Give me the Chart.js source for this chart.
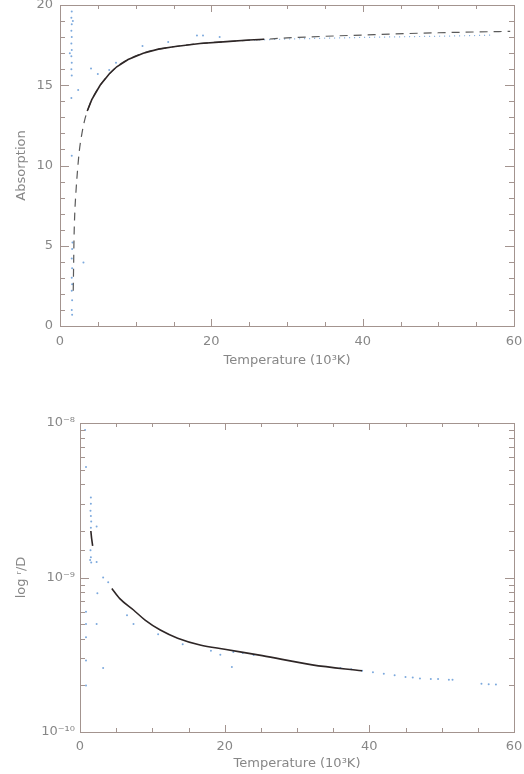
<!DOCTYPE html>
<html>
<head>
<meta charset="utf-8">
<script src="https://cdn.jsdelivr.net/npm/chart.js@4.4.0/dist/chart.umd.min.js"></script>
<style>
    body { margin: 0; background: #fff; width: 524px; height: 774px; overflow: hidden; position: relative; }
    .caixa { position: absolute; left: 0; width: 524px; }
</style>
</head>
<body>
<div class="caixa" style="top:-14px;height:394px"><canvas id="graficoA"></canvas></div>
<div class="caixa" style="top:390px;height:384px"><canvas id="graficoR"></canvas></div>

<script>
// ---- dados: grafico de absorcao ----
const tempTracejada = [1.75, 1.8, 1.85, 1.95, 2.1, 2.3, 2.55, 2.9, 3.3, 3.7, 4.2, 5.3, 7.5, 11, 15, 18.5, 22, 26.7, 30, 35, 40, 44.3, 50, 55, 59.5];
const absTracejada = [2.2, 3.8, 5.4, 7.0, 8.3, 9.6, 10.9, 12.0, 12.9, 13.5, 14.1, 15.0, 16.15, 17.0, 17.4, 17.6, 17.72, 17.85, 17.95, 18.05, 18.13, 18.2, 18.27, 18.32, 18.36];

const tempSolida = [3.6, 4.2, 5.3, 6.5, 7.5, 9, 11, 13, 15, 18.5, 22, 25, 27];
const absSolida = [13.4, 14.1, 15.0, 15.7, 16.15, 16.6, 17.0, 17.25, 17.4, 17.6, 17.72, 17.82, 17.87];

const tempPontilhada = [25, 30, 35, 40, 45, 51, 55, 57];
const absPontilhada = [17.8, 17.88, 17.93, 17.98, 18.02, 18.06, 18.1, 18.12];

const tempPontosA = [1.55, 1.55, 1.5, 1.55, 1.5, 1.55, 1.5, 1.55, 1.5, 1.55, 1.5, 1.55, 1.5, 1.55, 1.6, 1.55, 1.6, 1.55, 1.6, 1.55, 1.6, 1.55, 1.6,
    2.4, 4.1, 5.0, 6.5, 7.4, 10.9, 14.3, 18.1, 18.9, 21.1, 3.1, 1.65, 1.3, 1.7];
const absPontosA = [20, 19.6, 19.2, 18.8, 18.4, 18.0, 17.6, 17.2, 16.8, 16.4, 16.0, 15.6, 14.2, 10.6, 4.8, 4.2, 3.6, 3.0, 2.6, 2.2, 1.6, 1.0, 0.7,
    14.7, 16.05, 15.7, 15.95, 16.4, 17.45, 17.7, 18.1, 18.1, 18.0, 3.95, 5.2, 17.0, 19.0];

// ---- dados: grafico log r/D ----
const tempCurta = [1.5, 1.6, 1.75];
const razaoCurta = [2.0e-9, 1.8e-9, 1.6e-9];

const tempCurva = [4.4, 5.5, 7.4, 9, 11.1, 13.5, 16.6, 20, 25.2, 32.1, 39.0];
const razaoCurva = [8.5e-10, 7.3e-10, 6.16e-10, 5.3e-10, 4.57e-10, 4.05e-10, 3.66e-10, 3.43e-10, 3.12e-10, 2.72e-10, 2.49e-10];

const tempPontosR = [36, 37.5, 39, 40.5, 42, 43.5, 45, 46, 47, 48.5, 49.5, 51, 51.5, 55.5, 56.5, 57.5,
    1.5, 1.5, 1.45, 1.5, 1.55, 1.5, 1.45, 1.5, 1.55,
    0.7, 0.83, 0.83, 0.83, 0.83, 0.83, 0.83,
    2.3, 2.3, 1.4, 3.2, 3.9, 2.4, 2.3, 3.2, 6.5, 7.4, 10.8, 14.2, 18.1, 19.4, 21, 21.2, 22.5, 24];
const razaoPontosR = [2.6e-10, 2.55e-10, 2.49e-10, 2.44e-10, 2.38e-10, 2.33e-10, 2.27e-10, 2.25e-10, 2.22e-10, 2.2e-10, 2.2e-10, 2.18e-10, 2.18e-10, 2.05e-10, 2.04e-10, 2.03e-10,
    3.3e-9, 3.0e-9, 2.7e-9, 2.5e-9, 2.3e-9, 2.1e-9, 1.5e-9, 1.35e-9, 1.25e-9,
    9e-9, 5.2e-9, 6.0e-10, 5.0e-10, 4.1e-10, 2.9e-10, 2.0e-10,
    2.14e-9, 1.26e-9, 1.3e-9, 1.0e-9, 9.3e-10, 7.9e-10, 5.0e-10, 2.6e-10, 5.7e-10, 5.0e-10, 4.3e-10, 3.7e-10, 3.36e-10, 3.16e-10, 2.63e-10, 3.3e-10, 3.25e-10, 3.15e-10];

const ticksX = ["0", "20", "40", "60"];

const corEixo = "#a3948f";
const corTexto = "#878787";
const corAzul = "rgba(80,140,210,0.75)";
const fonte = { family: "DejaVu Sans", size: 13 };

function pares(xs, ys) {
    return xs.map((x, i) => ({ x: x, y: ys[i] }));
}

const sobrescrito = { "-": "\u207B", "0": "\u2070", "1": "\u00B9", "8": "\u2078", "9": "\u2079" };

function ehPotencia(v) {
    const l = Math.log10(v);
    return Math.abs(l - Math.round(l)) < 1e-6;
}

// moldura com tracinhos para dentro nos quatro lados
function criarMoldura(maiorY) {
    return {
        id: "moldura",
        afterDatasetsDraw(chart) {
            const { ctx, chartArea: a, scales } = chart;
            ctx.save();
            ctx.strokeStyle = corEixo;
            ctx.lineWidth = 1;
            ctx.strokeRect(a.left + 0.5, a.top + 0.5, a.right - a.left, a.bottom - a.top);
            ctx.beginPath();
            scales.x.ticks.forEach(t => {
                const px = Math.round(scales.x.getPixelForValue(t.value)) + 0.5;
                const len = t.value % 20 === 0 ? 7 : 4;
                ctx.moveTo(px, a.bottom); ctx.lineTo(px, a.bottom - len);
                ctx.moveTo(px, a.top); ctx.lineTo(px, a.top + len);
            });
            scales.y.ticks.forEach(t => {
                const py = Math.round(scales.y.getPixelForValue(t.value)) + 0.5;
                const len = maiorY(t.value) ? 9 : 5;
                ctx.moveTo(a.left, py); ctx.lineTo(a.left + len, py);
                ctx.moveTo(a.right, py); ctx.lineTo(a.right - len, py);
            });
            ctx.stroke();
            ctx.restore();
        }
    };
}

function eixoX(pad, padTitulo, altura) {
    return {
        type: "linear",
        min: 0,
        max: 60,
        grid: { display: false, drawTicks: false },
        border: { display: false },
        ticks: {
            stepSize: 5,
            autoSkip: false,
            maxRotation: 0,
            padding: pad,
            color: corTexto,
            font: fonte,
            callback: v => (v % 20 === 0 ? ticksX[v / 20] : "")
        },
        title: { display: true, text: "Temperature (10\u00B3K)", color: corTexto, font: fonte, padding: { top: 0, bottom: padTitulo } },
        afterFit: s => { s.height = altura; s.paddingLeft = 0; s.paddingRight = 0; }
    };
}

document.addEventListener("DOMContentLoaded", () => {
    new Chart(document.getElementById("graficoA"), {
        type: "scatter",
        data: {
            datasets: [
                { data: pares(tempSolida, absSolida), showLine: true, borderColor: "#2e2626", borderWidth: 1.6, pointRadius: 0 },
                { data: pares(tempTracejada, absTracejada), showLine: true, borderColor: "#5a5a5a", borderWidth: 1.2, borderDash: [8, 6], pointRadius: 0, cubicInterpolationMode: "monotone" },
                { data: pares(tempPontilhada, absPontilhada), showLine: true, borderColor: corAzul, borderWidth: 1.2, borderDash: [1, 4], pointRadius: 0 },
                { data: pares(tempPontosA, absPontosA), pointRadius: 1, pointBackgroundColor: corAzul, pointBorderWidth: 0 }
            ]
        },
        options: {
            responsive: true,
            maintainAspectRatio: false,
            animation: false,
            layout: { padding: { top: 19, right: 10, left: 0, bottom: 0 } },
            plugins: { legend: { display: false }, tooltip: { enabled: false } },
            scales: {
                x: eixoX(8, 12, 54),
                y: {
                    min: 0,
                    max: 20,
                    grid: { display: false, drawTicks: false },
                    border: { display: false },
                    ticks: {
                        stepSize: 1,
                        autoSkip: false,
                        padding: 7,
                        color: corTexto,
                        font: fonte,
                        callback: v => (v % 5 === 0 ? String(v) : "")
                    },
                    title: { display: true, text: "Absorption", color: corTexto, font: fonte, padding: { top: 14, bottom: 0 } },
                    afterFit: s => { s.width = 60; }
                }
            }
        },
        plugins: [criarMoldura(v => v % 5 === 0)]
    });

    new Chart(document.getElementById("graficoR"), {
        type: "scatter",
        data: {
            datasets: [
                { data: pares(tempCurva, razaoCurva), showLine: true, borderColor: "#2e2626", borderWidth: 1.6, pointRadius: 0, cubicInterpolationMode: "monotone" },
                { data: pares(tempCurta, razaoCurta), showLine: true, borderColor: "#2e2626", borderWidth: 1.6, pointRadius: 0 },
                { data: pares(tempPontosR, razaoPontosR), pointRadius: 1, pointBackgroundColor: corAzul, pointBorderWidth: 0 }
            ]
        },
        options: {
            responsive: true,
            maintainAspectRatio: false,
            animation: false,
            layout: { padding: { top: 33, right: 10, left: 0, bottom: 0 } },
            plugins: { legend: { display: false }, tooltip: { enabled: false } },
            scales: {
                x: eixoX(7, 3, 42),
                y: {
                    type: "logarithmic",
                    min: 1e-10,
                    max: 1e-8,
                    grid: { display: false, drawTicks: false },
                    border: { display: false },
                    ticks: {
                        autoSkip: false,
                        padding: 5,
                        color: corTexto,
                        font: fonte,
                        callback: v => {
                            if (!ehPotencia(v)) return "";
                            const e = String(Math.round(Math.log10(v)));
                            return "10" + e.split("").map(c => sobrescrito[c]).join("");
                        }
                    },
                    title: { display: true, text: "log \u02B3/D", color: corTexto, font: fonte, padding: { top: 14, bottom: 0 } },
                    afterFit: s => { s.width = 80; }
                }
            }
        },
        plugins: [criarMoldura(ehPotencia)]
    });
});
</script>
</body>
</html>
